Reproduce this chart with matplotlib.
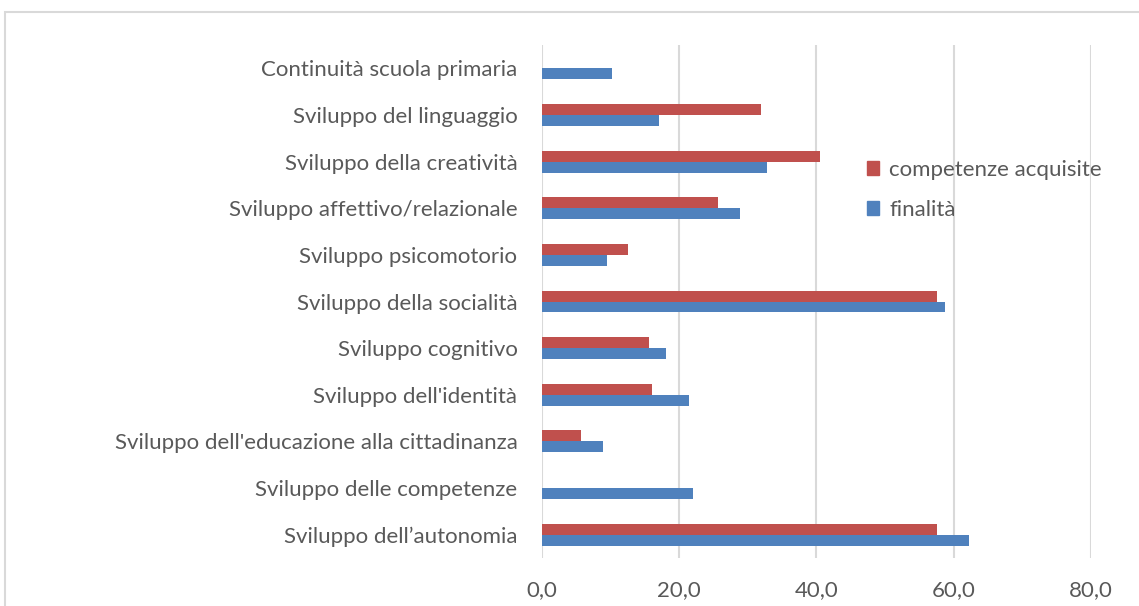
import matplotlib.pyplot as plt
from matplotlib.patches import Rectangle, Patch
import numpy as np

# categories top to bottom
categories = [
    "Continuità scuola primaria",
    "Sviluppo del linguaggio",
    "Sviluppo della creatività",
    "Sviluppo affettivo/relazionale",
    "Sviluppo psicomotorio",
    "Sviluppo della socialità",
    "Sviluppo cognitivo",
    "Sviluppo dell'identità",
    "Sviluppo dell'educazione alla cittadinanza",
    "Sviluppo delle competenze",
    "Sviluppo dell\u2019autonomia",
]
competenze_acquisite = [0, 31.9, 40.6, 25.7, 12.6, 57.6, 15.6, 16.0, 5.7, 0, 57.6]
finalita = [10.2, 17.1, 32.8, 28.9, 9.5, 58.7, 18.1, 21.5, 8.9, 22.1, 62.2]
x_ticks = [0, 20, 40, 60, 80]

RED = "#C0504D"
BLUE = "#4F81BD"
TEXT = "#595959"
GRID = "#D9D9D9"
FONT = "Lato"
FS = 16

W, H = 1139, 606
fig = plt.figure(figsize=(W / 100, H / 100), dpi=100)

# chart border (cut off on the right and bottom)
fig.patches.append(
    Rectangle((5 / W, -0.2), 1.2, 1.2 - 12 / H, transform=fig.transFigure,
              fill=False, edgecolor=GRID, linewidth=1.5)
)

left, right, top, bottom = 541.7, 1091.0, 45.0, 558.0
ax = fig.add_axes([left / W, 1 - bottom / H, (right - left) / W, (bottom - top) / H])

y = np.arange(len(categories))
h = 0.235
ax.barh(y - h / 2, competenze_acquisite, height=h, color=RED, edgecolor="none",
        label="competenze acquisite", zorder=3)
ax.barh(y + h / 2, finalita, height=h, color=BLUE, edgecolor="none",
        label="finalità", zorder=3)

ax.set_ylim(len(categories) - 0.5, -0.5)
ax.set_xlim(0, 80)
ax.set_xticks(x_ticks)
ax.set_xticklabels([f"{v:.1f}".replace(".", ",") for v in x_ticks])
ax.set_yticks(y)
ax.set_yticklabels(categories)

for s in ax.spines.values():
    s.set_visible(False)
ax.grid(axis="x", color=GRID, linewidth=1.5, zorder=0)
ax.tick_params(axis="x", length=0, pad=16, labelsize=FS, labelcolor=TEXT)
ax.tick_params(axis="y", length=0, pad=17.5, labelsize=FS, labelcolor=TEXT)
for lbl in ax.get_xticklabels() + ax.get_yticklabels():
    lbl.set_family(FONT)

handles = [Patch(color=RED), Patch(color=BLUE)]
ax.legend(handles, ["competenze acquisite", "finalità"], loc="center left",
          bbox_to_anchor=(856 / W, 1 - 190 / H), bbox_transform=fig.transFigure,
          frameon=False, borderpad=0, handlelength=0.55, handleheight=0.55,
          handletextpad=0.45, labelspacing=0.9,
          prop={"family": FONT, "size": FS}, labelcolor=TEXT)

fig.savefig("out.png", dpi=100)
